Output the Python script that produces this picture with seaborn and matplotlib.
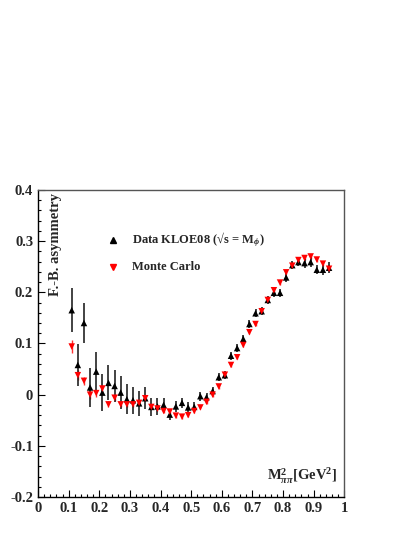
import numpy as np
import pandas as pd
import seaborn as sns
import matplotlib
matplotlib.use("Agg")
import matplotlib.pyplot as plt
from matplotlib.ticker import MultipleLocator, FuncFormatter

# ---- data ----
mass2 = [0.11, 0.13, 0.15, 0.17, 0.19, 0.21, 0.23, 0.25, 0.27, 0.29, 0.31,
         0.33, 0.35, 0.37, 0.39, 0.41, 0.43, 0.45, 0.47, 0.49, 0.51, 0.53,
         0.55, 0.57, 0.59, 0.61, 0.63, 0.65, 0.67, 0.69, 0.71, 0.73, 0.75,
         0.77, 0.79, 0.81, 0.83, 0.85, 0.87, 0.89, 0.91, 0.93, 0.95]
data_asym = [0.165, 0.058, 0.140, 0.014, 0.045, 0.004, 0.023, 0.017, 0.004, -0.009, -0.011,
             -0.017, -0.007, -0.024, -0.023, -0.020, -0.039, -0.023, -0.016, -0.025, -0.024, -0.003,
             -0.005, 0.007, 0.034, 0.038, 0.076, 0.091, 0.109, 0.138, 0.159, 0.163, 0.185,
             0.199, 0.199, 0.229, 0.253, 0.259, 0.257, 0.259, 0.244, 0.244, 0.248]
data_err = [0.043, 0.041, 0.040, 0.039, 0.038, 0.036, 0.034, 0.031, 0.032, 0.029, 0.026,
            0.024, 0.021, 0.017, 0.017, 0.014, 0.011, 0.011, 0.010, 0.010, 0.009, 0.009,
            0.009, 0.008, 0.008, 0.008, 0.008, 0.008, 0.008, 0.008, 0.008, 0.008, 0.008,
            0.008, 0.008, 0.008, 0.008, 0.008, 0.009, 0.009, 0.009, 0.010, 0.011]
mc_asym = [0.094, 0.038, 0.027, 0.000, 0.003, 0.012, -0.019, -0.006, -0.019, -0.019, -0.019,
           -0.016, -0.007, -0.024, -0.027, -0.032, -0.033, -0.041, -0.043, -0.040, -0.032, -0.025,
           -0.014, 0.000, 0.016, 0.039, 0.058, 0.073, 0.097, 0.122, 0.138, 0.163, 0.185,
           0.204, 0.219, 0.239, 0.252, 0.263, 0.267, 0.270, 0.264, 0.256, 0.246]
mc_err = [0.012, 0.010, 0.008, 0.008, 0.007, 0.007, 0.006, 0.006, 0.006, 0.005, 0.005,
          0.005, 0.005, 0.005, 0.004, 0.004, 0.004, 0.004, 0.004, 0.004, 0.004, 0.004,
          0.004, 0.004, 0.004, 0.004, 0.004, 0.004, 0.004, 0.004, 0.004, 0.004, 0.004,
          0.004, 0.004, 0.004, 0.004, 0.004, 0.004, 0.004, 0.004, 0.004, 0.004]
labels = ["Data KLOE08 (\u221as = M$_{\\phi}$)", "Monte Carlo"]

sns.set_style("white")
plt.rcParams["font.family"] = ["Liberation Serif", "DejaVu Serif"]
plt.rcParams["font.weight"] = "bold"
plt.rcParams["mathtext.fontset"] = "custom"
plt.rcParams["mathtext.rm"] = "Liberation Serif:bold"
plt.rcParams["mathtext.bf"] = "Liberation Serif:bold"
plt.rcParams["mathtext.it"] = "Liberation Serif:italic:bold"

fig = plt.figure(figsize=(4.14, 5.35), dpi=100)
ax = fig.add_axes([0.0918, 0.071, 0.74, 0.574])

df = pd.DataFrame({
    "x": mass2 + mass2,
    "y": data_asym + mc_asym,
    "err": data_err + mc_err,
    "series": [labels[0]] * len(mass2) + [labels[1]] * len(mass2),
})

ax.errorbar(mass2, mc_asym, yerr=mc_err, fmt="none", ecolor="#ff3030", elinewidth=1.0, zorder=2)
ax.errorbar(mass2, data_asym, yerr=data_err, fmt="none", ecolor="#222222", elinewidth=1.2, zorder=3)
sns.scatterplot(data=df, x="x", y="y", hue="series", style="series",
                palette={labels[0]: "black", labels[1]: "#ff0000"},
                markers={labels[0]: "^", labels[1]: "v"},
                s=22, linewidth=0, ax=ax, legend=False, zorder=4)

ax.set_xlim(0, 1)
ax.set_ylim(-0.2, 0.4)
ax.set_xlabel("")
ax.set_ylabel("")

ax.xaxis.set_major_locator(MultipleLocator(0.1))
ax.xaxis.set_minor_locator(MultipleLocator(0.02))
ax.yaxis.set_major_locator(MultipleLocator(0.1))
ax.yaxis.set_minor_locator(MultipleLocator(0.02))
fmt = FuncFormatter(lambda v, p: ("%g" % round(v, 2)))
ax.xaxis.set_major_formatter(fmt)
ax.yaxis.set_major_formatter(fmt)
ax.tick_params(which="both", direction="in", top=False, right=False, left=True, bottom=True,
               labelsize=10.5, width=0.8, color="black")
ax.tick_params(which="major", length=5)
ax.tick_params(which="minor", length=2.5)
for lab in ax.get_xticklabels() + ax.get_yticklabels():
    lab.set_fontweight("bold")
for sp in ax.spines.values():
    sp.set_color("#555555")
    sp.set_linewidth(1.0)
ax.spines["left"].set_color("black")
ax.spines["bottom"].set_color("black")

# y title inside the frame
ax.text(0.0555, 0.822, "F.-B. asymmetry", transform=ax.transAxes, rotation=90,
        ha="center", va="center", fontsize=10.5, fontweight="bold")
# x title inside the frame
ax.text(0.975, 0.035, r"$\mathbf{M}^{\mathbf{2}}_{\pi\pi}\mathbf{[GeV}^{\mathbf{2}}\mathbf{]}$",
        transform=ax.transAxes, ha="right", va="bottom", fontsize=10.5)

# legend
ax.plot([0.244], [0.837], transform=ax.transAxes, marker="^", color="black", ms=5, ls="none")
ax.text(0.306, 0.837, labels[0], transform=ax.transAxes, ha="left", va="center", fontsize=9)
ax.plot([0.244], [0.750], transform=ax.transAxes, marker="v", color="#ff0000", ms=5, ls="none")
ax.text(0.306, 0.750, labels[1], transform=ax.transAxes, ha="left", va="center", fontsize=9)

fig.savefig("out.png", dpi=100)
